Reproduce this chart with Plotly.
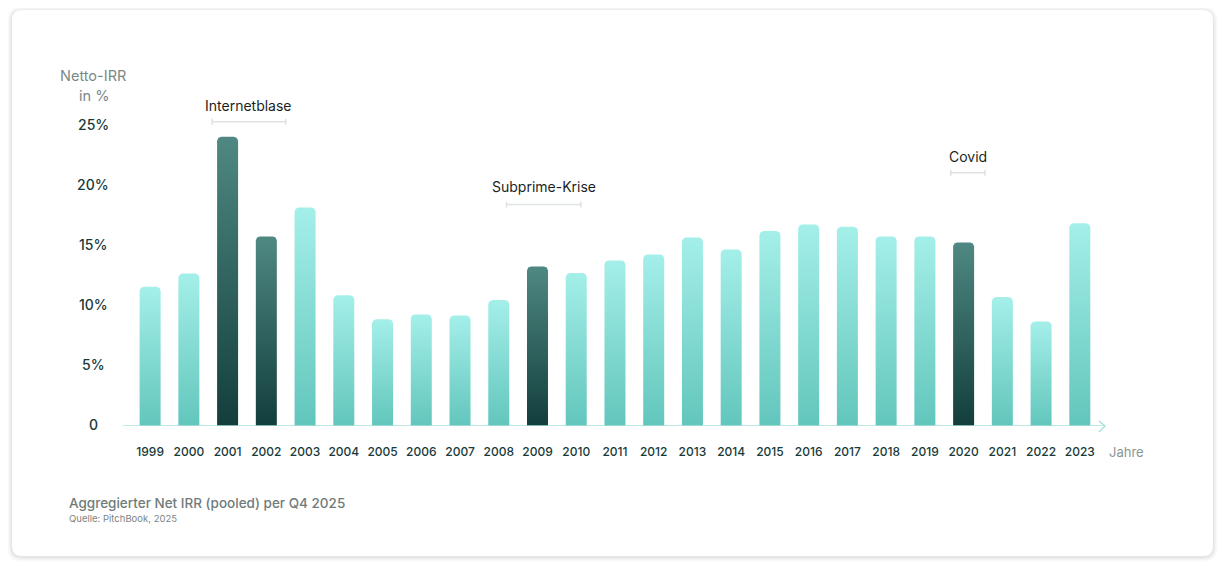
import plotly.graph_objects as go

# === Data ===
years = list(range(1999, 2024))
irr = [11.6, 12.7, 24.1, 15.8, 18.2, 10.9, 8.9, 9.3, 9.2, 10.5, 13.3, 12.75, 13.8,
       14.3, 15.7, 14.7, 16.25, 16.8, 16.6, 15.8, 15.8, 15.3, 10.75, 8.7, 16.9]
crisis_years = [2001, 2002, 2009, 2020]

y_ticks = [0, 5, 10, 15, 20, 25]
y_labels = ["0", "5%", "10%", "15%", "20%", "25%"]

events = ["Internetblase", "Subprime-Krise", "Covid"]
event_from = [2000.6, 2008.2, 2019.67]
event_to = [2002.5, 2010.12, 2020.55]
event_text_y = [26.75, 20.0, 22.5]
event_line_y = [25.35, 18.45, 21.1]

# === Layout geometry (pixels, page has an 8px body margin) ===
OFF = 8
W, H = 1227 - 2 * OFF, 572 - 2 * OFF
L, R, T, B = 123 - OFF, 1227 - 1105 - OFF, 102 - OFF, 572 - 426 - OFF
x_range = [1998.30, 2023.65]
y_range = [0, 27]
px_x = (W - L - R) / (x_range[1] - x_range[0])
px_y = (H - T - B) / (y_range[1] - y_range[0])

LIGHT = [[0, "#62c6bc"], [1, "#a4efe9"]]
DARK = [[0, "#123e3c"], [1, "#4f8882"]]


def bar_path(xc, h, half_px=10.5, r_px=4):
    hw = half_px / px_x
    rx, ry = r_px / px_x, r_px / px_y
    xs = [xc - hw, xc - hw, xc - hw + rx * 0.3, xc - hw + rx, xc + hw - rx,
          xc + hw - rx * 0.3, xc + hw, xc + hw, xc - hw]
    ys = [0, h - ry, h - ry * 0.3, h, h, h - ry * 0.3, h - ry, 0, 0]
    return xs, ys


fig = go.Figure()

for yr, v in zip(years, irr):
    xs, ys = bar_path(yr, v)
    fig.add_trace(go.Scatter(
        x=xs, y=ys, mode="lines", fill="toself",
        line=dict(width=0),
        fillgradient=dict(type="vertical", start=0, stop=v,
                          colorscale=DARK if yr in crisis_years else LIGHT),
        hoverinfo="skip", showlegend=False,
    ))


# reference-image pixel -> paper coords
def px2paper_x(p):
    return (p - OFF - L) / (W - L - R)


def px2paper_y(p):
    return (H - B - (p - OFF)) / (H - T - B)


def rounded_rect(x0, y0, x1, y1, r):
    X = px2paper_x
    Y = px2paper_y
    return (f"M {X(x0 + r)},{Y(y0)} L {X(x1 - r)},{Y(y0)} Q {X(x1)},{Y(y0)} {X(x1)},{Y(y0 + r)} "
            f"L {X(x1)},{Y(y1 - r)} Q {X(x1)},{Y(y1)} {X(x1 - r)},{Y(y1)} "
            f"L {X(x0 + r)},{Y(y1)} Q {X(x0)},{Y(y1)} {X(x0)},{Y(y1 - r)} "
            f"L {X(x0)},{Y(y0 + r)} Q {X(x0)},{Y(y0)} {X(x0 + r)},{Y(y0)} Z")


shapes = []
# card shadow + card
for i, a in enumerate([0.01, 0.014, 0.018, 0.024, 0.03]):
    s = 5 - i
    shapes.append(dict(type="path", xref="paper", yref="paper", layer="below",
                       path=rounded_rect(12 - s, 10 - s + 1, 1213 + s, 556 + s + 1, 10 + s),
                       fillcolor=f"rgba(0,0,0,{a})", line=dict(width=0)))
shapes.append(dict(type="path", xref="paper", yref="paper", layer="below",
                   path=rounded_rect(12, 10, 1213, 556, 10),
                   fillcolor="white", line=dict(width=0)))

# x axis line with arrow
shapes.append(dict(type="line", xref="paper", yref="y", x0=0, x1=1, y0=0, y1=0,
                   line=dict(color="#a9e2dc", width=1.5)))
ax = px2paper_x(1099)
shapes.append(dict(type="path", xref="paper", yref="paper",
                   path=f"M {ax},{px2paper_y(421)} L 1,0 L {ax},{px2paper_y(432)}",
                   line=dict(color="#a9e2dc", width=1.5)))

annotations = []
# event brackets
for name, a, b, ty, ly in zip(events, event_from, event_to, event_text_y, event_line_y):
    shapes.append(dict(type="line", x0=a, x1=b, y0=ly, y1=ly,
                       line=dict(color="#dde3e2", width=1.5)))
    for xe in (a, b):
        shapes.append(dict(type="line", x0=xe, x1=xe, y0=ly - 3 / px_y, y1=ly + 3 / px_y,
                           line=dict(color="#dde3e2", width=1.5)))
    annotations.append(dict(x=(a + b) / 2, y=ty, text=name, showarrow=False,
                            xanchor="center", yanchor="middle",
                            font=dict(family="Inter", size=14, color="#1b1f1f")))

# y tick labels, centered like the original
for v, t in zip(y_ticks, y_labels):
    annotations.append(dict(xref="paper", yref="y", x=px2paper_x(93), y=v, text=t,
                            showarrow=False, xanchor="center", yanchor="middle", yshift=2,
                            font=dict(family="Inter", size=14, color="#173a38", weight=500)))

annotations += [
    dict(xref="paper", yref="paper", x=px2paper_x(93), y=px2paper_y(75), text="Netto-IRR",
         showarrow=False, xanchor="center", yanchor="middle",
         font=dict(family="Inter", size=14.5, color="#7b8886")),
    dict(xref="paper", yref="paper", x=px2paper_x(94), y=px2paper_y(96), text="in %",
         showarrow=False, xanchor="center", yanchor="middle",
         font=dict(family="Inter", size=14.5, color="#7b8886")),
    dict(xref="paper", yref="paper", x=px2paper_x(1107), y=px2paper_y(452), text="Jahre",
         showarrow=False, xanchor="left", yanchor="middle",
         font=dict(family="Inter", size=13, color="#8a9593")),
    dict(xref="paper", yref="paper", x=px2paper_x(67), y=px2paper_y(503),
         text="Aggregierter Net IRR (pooled) per Q4 2025", showarrow=False,
         xanchor="left", yanchor="middle",
         font=dict(family="Inter", size=13.5, color="#6f7b7a", weight=500)),
    dict(xref="paper", yref="paper", x=px2paper_x(67), y=px2paper_y(518),
         text="Quelle: PitchBook, 2025", showarrow=False, xanchor="left", yanchor="middle",
         font=dict(family="Inter", size=9.5, color="#7b8584")),
]

fig.update_layout(
    width=W, height=H,
    margin=dict(l=L, r=R, t=T, b=B),
    paper_bgcolor="white", plot_bgcolor="rgba(0,0,0,0)",
    shapes=shapes, annotations=annotations,
    showlegend=False,
    xaxis=dict(range=x_range, tickvals=years, ticktext=[str(y) for y in years],
               showgrid=False, zeroline=False, showline=False, ticks="",
               ticklabelstandoff=17,
               tickfont=dict(family="Inter", size=12, color="#173a38", weight=500)),
    yaxis=dict(range=y_range, showgrid=False, zeroline=False, showline=False,
               showticklabels=False, ticks=""),
)

fig.write_html("out.html")
